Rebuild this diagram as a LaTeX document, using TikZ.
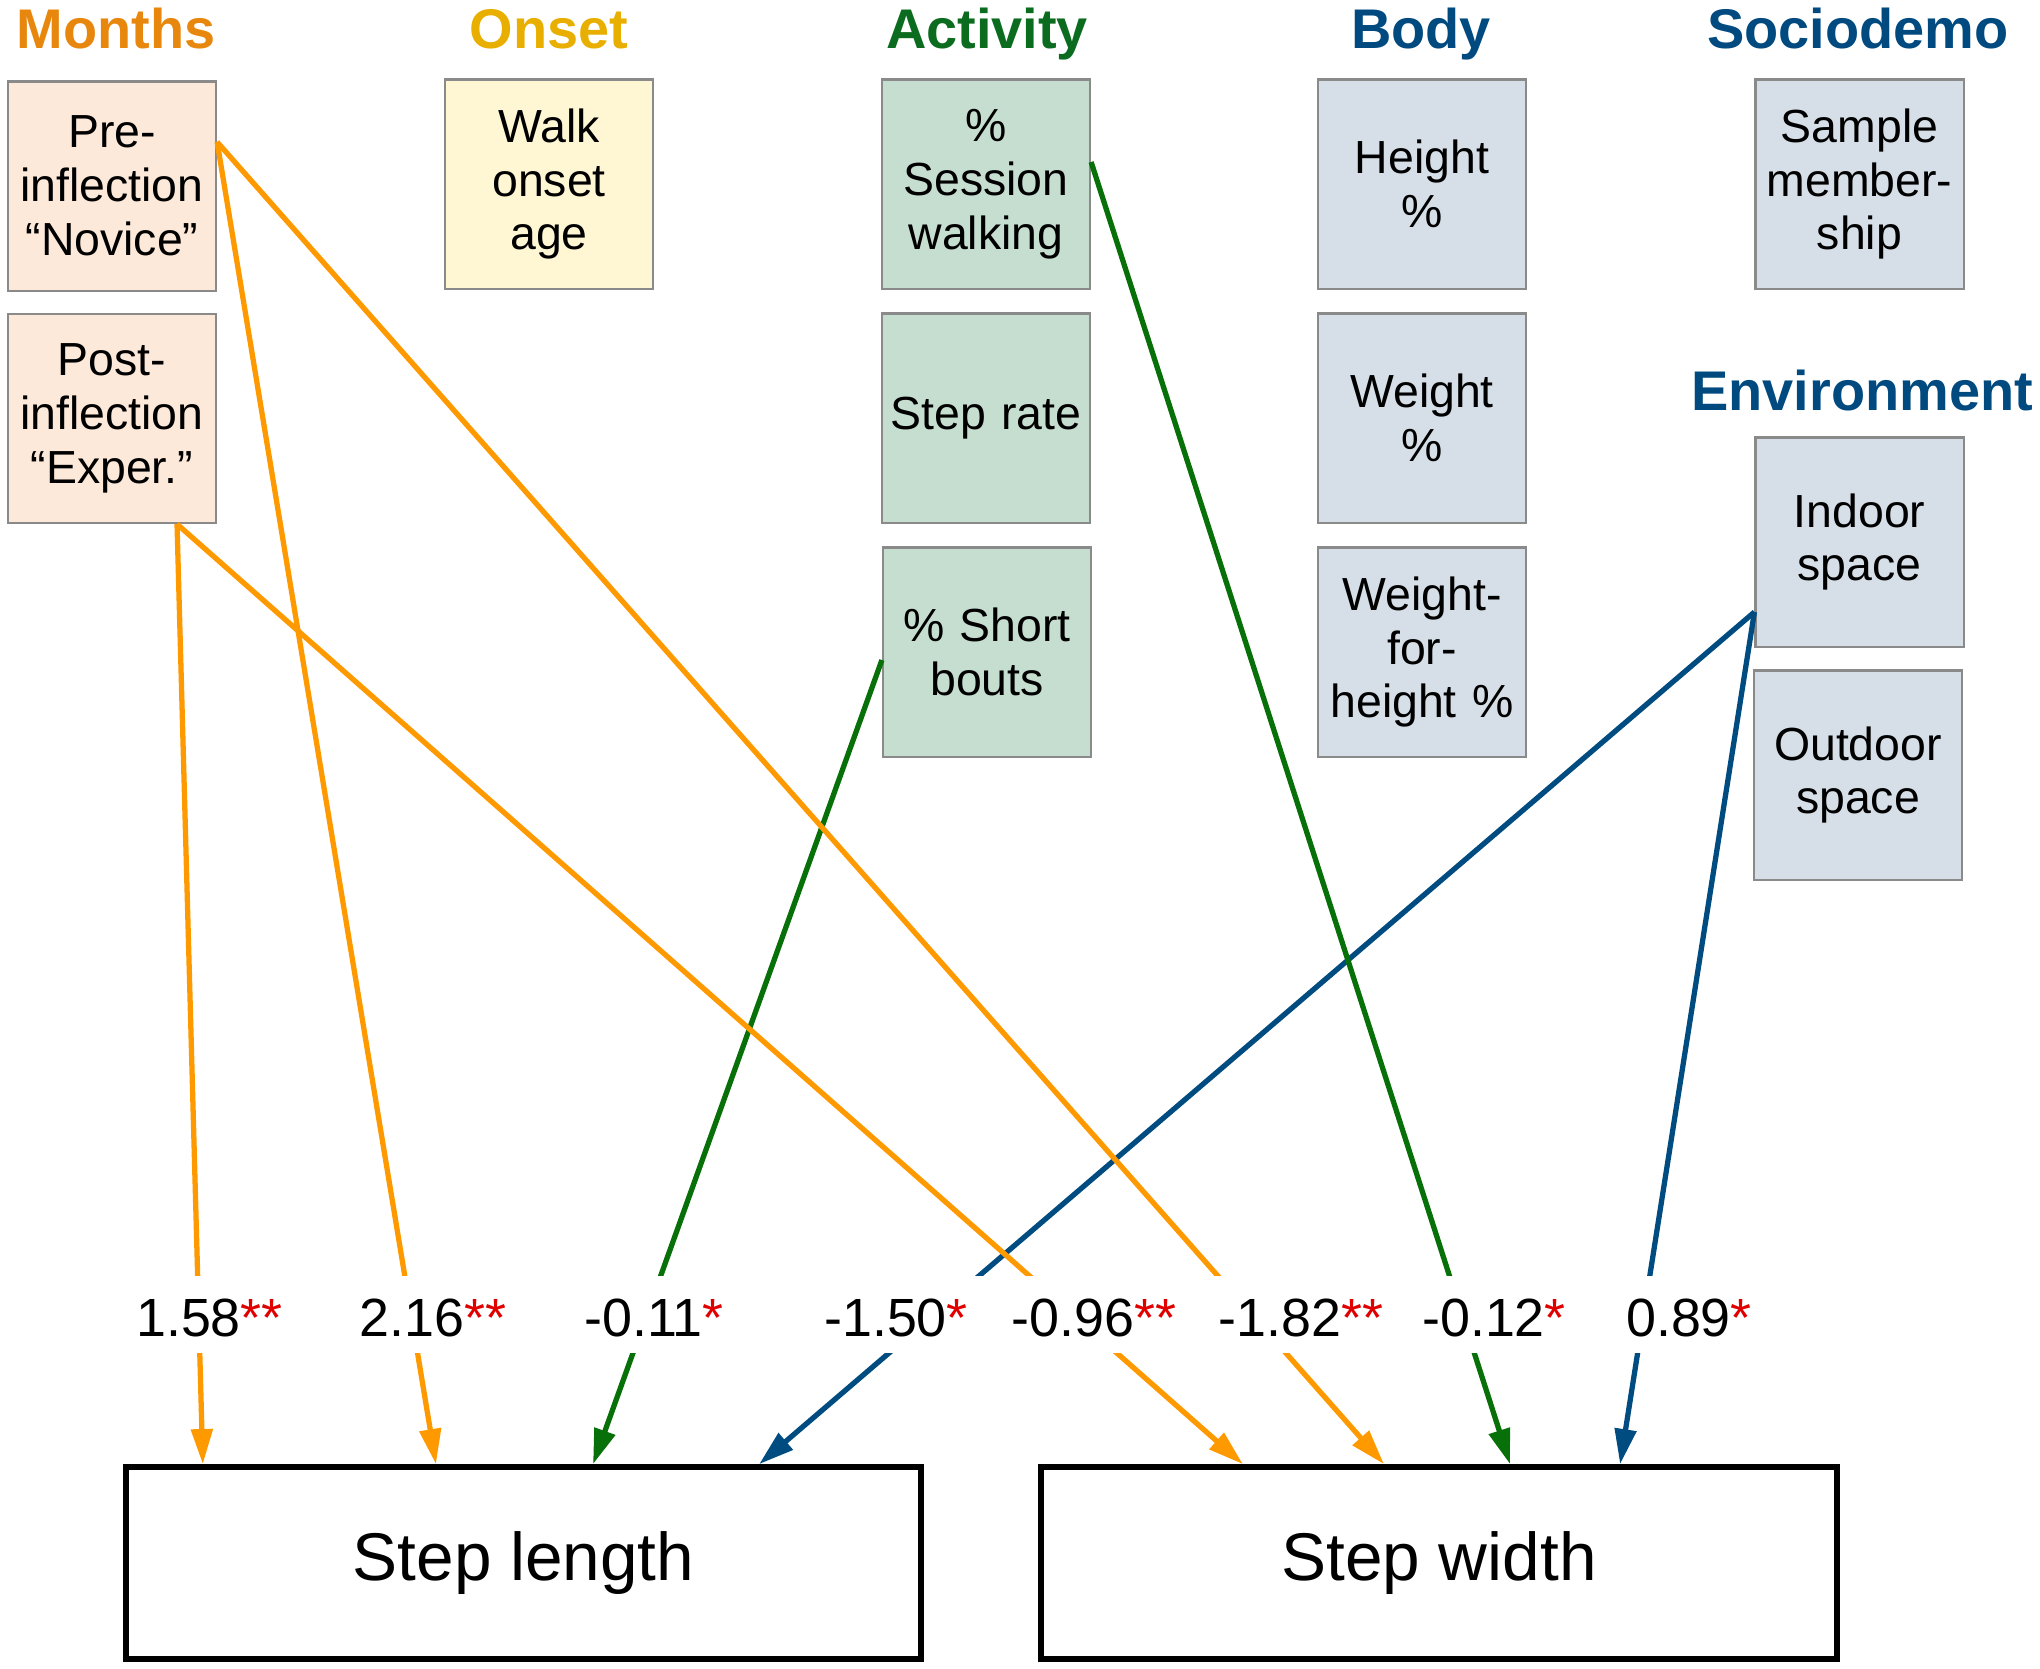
\documentclass[tikz,border=0pt]{standalone}
\usepackage{fontspec}
\setmainfont{Liberation Sans}
\usetikzlibrary{arrows.meta}
\definecolor{cMonths}{HTML}{E8870E}
\definecolor{cOnset}{HTML}{E8AE00}
\definecolor{cActivity}{HTML}{0B6B1E}
\definecolor{cNavy}{HTML}{004A80}
\definecolor{fMonths}{HTML}{FDE9D9}
\definecolor{fOnset}{HTML}{FFF7D4}
\definecolor{fActivity}{HTML}{C5DED0}
\definecolor{fBody}{HTML}{D6DFE7}
\definecolor{boxgray}{HTML}{8A8A8A}
\definecolor{lOrange}{HTML}{FF9900}
\definecolor{lGreen}{HTML}{087008}
\definecolor{lBlue}{HTML}{004C80}
\definecolor{cRed}{HTML}{E00000}
\newcommand\sigstar[1]{\textcolor{cRed}{#1}}
\begin{document}
\begin{tikzpicture}[x=0.01cm,y=-0.01cm,
  srcbox/.style={draw=boxgray, line width=0.6pt, minimum width=2.08cm, minimum height=2.09cm,
    text width=2.0cm, align=center, inner sep=0pt,
    font=\fontsize{13.2pt}{15.3pt}\selectfont},
  grptitle/.style={anchor=base, inner sep=0pt, font=\bfseries\fontsize{15.9pt}{18pt}\selectfont},
  outbox/.style={draw=black, line width=1.6pt, minimum width=7.95cm, minimum height=1.92cm,
    inner sep=0pt, font=\fontsize{19.2pt}{22pt}\selectfont},
  conn/.style={line width=1.5pt, -{Triangle[length=10pt,width=6pt]}},
  coef/.style={anchor=base, inner sep=0pt, font=\fontsize{15.3pt}{18pt}\selectfont}]
\useasboundingbox (0,0) rectangle (2040,1668);

% group titles
\node[grptitle, text=cMonths] (tMonths) at (116,48) {Months};
\node[grptitle, text=cOnset] (tOnset) at (549,48) {Onset};
\node[grptitle, text=cActivity] (tActivity) at (987,48) {Activity};
\node[grptitle, text=cNavy] (tBody) at (1421,48) {Body};
\node[grptitle, text=cNavy] (tSocio) at (1858,48) {Sociodemo};
\node[grptitle, text=cNavy] (tEnv) at (1862,410) {Environment};

% predictor boxes
\node[srcbox, fill=fMonths] (pre) at (112,186) {Pre-\\inflection\\“Novice”};
\node[srcbox, fill=fMonths] (post) at (112,418.5) {Post-\\inflection\\“Exper.”};
\node[srcbox, fill=fOnset] (onset) at (549,184) {Walk\\onset\\age};
\node[srcbox, fill=fActivity] (sess) at (986,184) {\%\\Session\\walking};
\node[srcbox, fill=fActivity] (rate) at (986,418) {Step rate};
\node[srcbox, fill=fActivity] (bouts) at (987,652) {\% Short\\bouts};
\node[srcbox, fill=fBody] (height) at (1422,184) {Height\\\%};
\node[srcbox, fill=fBody] (weight) at (1422,418) {Weight\\\%};
\node[srcbox, fill=fBody] (wfh) at (1422,652) {Weight-\\for-\\height \%};
\node[srcbox, fill=fBody] (sample) at (1859.5,184) {Sample\\member-\\ship};
\node[srcbox, fill=fBody] (indoor) at (1859.5,542) {Indoor\\space};
\node[srcbox, fill=fBody] (outdoor) at (1858,775) {Outdoor\\space};

% outcome boxes
\node[outbox] (len) at (523.5,1563) {Step length};
\node[outbox] (wid) at (1439,1563) {Step width};

% connector start points
\coordinate (preA) at ([yshift=0.44cm]pre.east);
\coordinate (postA) at ([xshift=0.65cm]post.south);
\coordinate (sessA) at ([yshift=0.22cm]sess.east);
\coordinate (boutsA) at ([yshift=-0.08cm]bouts.west);
\coordinate (indoorA) at ([yshift=-0.70cm]indoor.west);

% connectors
\draw[conn, lOrange] (postA) -- ([xshift=-3.205cm]len.north);
\draw[conn, lOrange] (preA) -- ([xshift=-0.875cm]len.north);
\draw[conn, lGreen] (boutsA) -- ([xshift=0.695cm]len.north);
\draw[conn, lBlue] (indoorA) -- ([xshift=2.355cm]len.north);
\draw[conn, lOrange] (postA) -- ([xshift=-1.96cm]wid.north);
\draw[conn, lOrange] (preA) -- ([xshift=-0.55cm]wid.north);
\draw[conn, lGreen] (sessA) -- ([xshift=0.71cm]wid.north);
\draw[conn, lBlue] (indoorA) -- ([xshift=1.81cm]wid.north);

% gap band behind the coefficients
\fill[white] (0,1276) rectangle (2040,1353);

% coefficients
\node[coef] (c1) at (209.5,1336) {1.58\sigstar{**}};
\node[coef] (c2) at (433,1336) {2.16\sigstar{**}};
\node[coef] (c3) at (654,1336) {-0.11\sigstar{*}};
\node[coef] (c4) at (896,1336) {-1.50\sigstar{*}};
\node[coef] (c5) at (1094,1336) {-0.96\sigstar{**}};
\node[coef] (c6) at (1301,1336) {-1.82\sigstar{**}};
\node[coef] (c7) at (1494,1336) {-0.12\sigstar{*}};
\node[coef] (c8) at (1689,1336) {0.89\sigstar{*}};
\end{tikzpicture}
\end{document}
